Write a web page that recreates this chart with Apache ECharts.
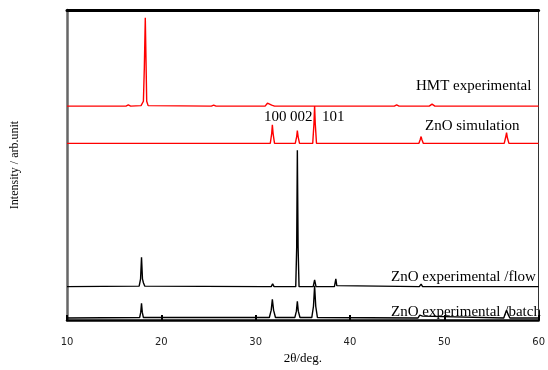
<!DOCTYPE html>
<html>
<head>
<meta charset="utf-8">
<script src="https://cdn.jsdelivr.net/npm/echarts@6/dist/echarts.min.js"></script>
<style>
  html, body { margin: 0; padding: 0; background: #fff; }
  #chart { width: 548px; height: 370px; }
</style>
</head>
<body>
<div id="chart"></div>
<script>
// 2θ ticks
const xTicks = [10, 20, 30, 40, 50, 60];

// patterns as [2θ, intensity above own baseline]
const hmtExp = [
  [10, 0], [16.25, 0], [16.5, 1.2], [16.75, 0], [17.85, 0.5], [18.1, 5], [18.2, 40],
  [18.3, 90], [18.45, 5], [18.6, 0.5], [25.3, 0], [25.55, 1], [25.8, 0],
  [31.0, 0], [31.25, 3], [31.45, 5], [31.7, 1], [32.0, 0], [36.3, 0], [36.5, 1.5],
  [36.7, 0], [44.7, 0], [44.95, 1.2], [45.2, 0], [48.4, 0], [48.7, 2], [49.0, 0], [60, 0]
];
const znoSim = [
  [10, 0], [31.55, 0], [31.7, 10], [31.77, 19], [31.85, 10], [32.0, 0],
  [34.2, 0], [34.35, 7], [34.42, 13], [34.5, 7], [34.65, 0],
  [36.05, 0], [36.18, 20], [36.25, 38], [36.32, 20], [36.45, 0],
  [47.3, 0], [47.45, 4], [47.54, 7], [47.62, 4], [47.78, 0],
  [56.35, 0], [56.5, 6], [56.6, 11], [56.68, 6], [56.85, 0], [60, 0]
];
const znoFlow = [
  [10, 0], [17.65, 0.5], [17.8, 8], [17.9, 30], [18.0, 8], [18.1, 4], [18.25, 0.5],
  [30.85, 0], [31.0, 2], [31.15, 0], [31.65, 0], [31.8, 3], [31.95, 0],
  [34.25, 0], [34.35, 40], [34.42, 139], [34.5, 40], [34.6, 0],
  [36.1, 0], [36.25, 7], [36.4, 0], [38.35, 0], [38.5, 8], [38.6, 1], [38.75, 0],
  [47.35, 0], [47.54, 2.5], [47.7, 0], [56.45, 0], [56.6, 1], [56.75, 0], [60, 0]
];
const znoBatch = [
  [10, 0], [17.7, 0.5], [17.82, 6], [17.9, 15], [17.98, 6], [18.1, 0.5],
  [31.45, 0.5], [31.65, 8], [31.77, 19], [31.9, 8], [32.1, 0.5],
  [34.15, 0.5], [34.32, 7], [34.42, 17], [34.52, 7], [34.7, 0.5],
  [35.95, 0.5], [36.13, 12], [36.25, 33], [36.37, 12], [36.55, 0.5],
  [47.2, 0], [47.4, 3], [47.54, 4], [47.7, 2], [47.9, 0],
  [56.3, 0], [56.48, 5], [56.6, 8], [56.75, 4], [56.95, 0], [60, 0]
];

// vertical stacking offsets (same units as intensity)
const seriesNames = ['HMT experimental', 'ZnO simulation', 'ZnO experimental /flow', 'ZnO experimental /batch'];
const seriesData = [hmtExp, znoSim, znoFlow, znoBatch];
const offsets = [218, 180, 34, 2];
const colors = ['#ff0000', '#ff0000', '#000000', '#000000'];
const hklLabels = ['100', '002', '101'];

const chart = echarts.init(document.getElementById('chart'));

const serif = 'Liberation Serif, Times New Roman, serif';

chart.setOption({
  animation: false,
  grid: { left: 67, right: 5, top: 10, bottom: 44 },
  xAxis: [
    {
      type: 'value', min: xTicks[0], max: xTicks[xTicks.length - 1], interval: 10,
      name: '2θ/deg.', nameLocation: 'middle', nameGap: 32,
      nameTextStyle: { fontFamily: serif, fontSize: 13, color: '#000' },
      axisLine: { show: true, onZero: false, lineStyle: { color: '#000', width: 2.5 } },
      axisTick: { inside: true, length: 5, lineStyle: { color: '#000', width: 2 } },
      axisLabel: { margin: 17, fontFamily: 'DejaVu Sans, sans-serif', fontSize: 10, color: '#222' },
      splitLine: { show: false }
    },
    {
      type: 'value', position: 'top', min: 10, max: 60,
      axisLine: { show: true, onZero: false, lineStyle: { color: '#000', width: 3 } },
      axisTick: { show: false }, axisLabel: { show: false }, splitLine: { show: false }
    }
  ],
  yAxis: [
    {
      type: 'value', min: 0, max: 316,
      name: 'Intensity / arb.unit', nameLocation: 'middle', nameGap: 46,
      nameTextStyle: { fontFamily: serif, fontSize: 12, color: '#000' },
      axisLine: { show: true, onZero: false, lineStyle: { color: '#666', width: 2.5 } },
      axisTick: { show: false }, axisLabel: { show: false }, splitLine: { show: false }
    },
    {
      type: 'value', position: 'right', min: 0, max: 316,
      axisLine: { show: true, onZero: false, lineStyle: { color: '#333', width: 1 } },
      axisTick: { show: false }, axisLabel: { show: false }, splitLine: { show: false }
    }
  ],
  series: seriesData.map((pts, i) => ({
    name: seriesNames[i],
    type: 'line',
    symbol: 'none',
    lineStyle: { color: colors[i], width: 1.4 },
    data: pts.map(p => [p[0], p[1] + offsets[i]])
  })),
  graphic: [
    { type: 'text', left: 416, top: 79, style: { text: seriesNames[0], font: '15px ' + serif, fill: '#000' } },
    { type: 'text', left: 425, top: 119, style: { text: seriesNames[1], font: '15px ' + serif, fill: '#000' } },
    { type: 'text', left: 391, top: 270, style: { text: seriesNames[2], font: '15px ' + serif, fill: '#000' } },
    { type: 'text', left: 391, top: 305, style: { text: seriesNames[3], font: '15px ' + serif, fill: '#000' } },
    { type: 'text', left: 264, top: 110, style: { text: hklLabels[0], font: '15px ' + serif, fill: '#000' } },
    { type: 'text', left: 290, top: 110, style: { text: hklLabels[1], font: '15px ' + serif, fill: '#000' } },
    { type: 'text', left: 322, top: 110, style: { text: hklLabels[2], font: '15px ' + serif, fill: '#000' } }
  ]
});
</script>
</body>
</html>
